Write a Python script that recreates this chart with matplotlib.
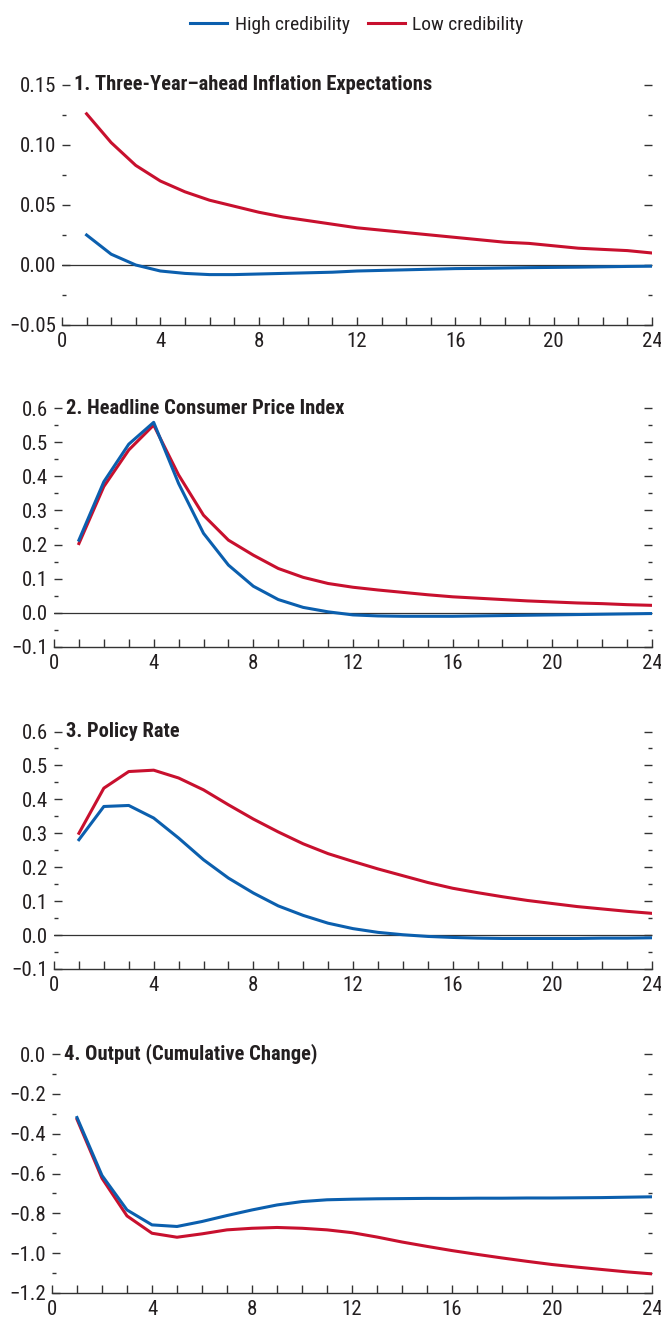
import numpy as np
import matplotlib
matplotlib.use("Agg")
import matplotlib.pyplot as plt
from matplotlib.ticker import MultipleLocator, FuncFormatter

plt.rcParams['font.family'] = ['Roboto Condensed', 'DejaVu Sans']

# quarters
quarters = np.arange(1, 25)

# 1. Three-year-ahead inflation expectations
infl_high = [0.025, 0.009, 0.000, -0.005, -0.007, -0.008, -0.008, -0.0075, -0.007, -0.0065,
             -0.006, -0.005, -0.0045, -0.004, -0.0035, -0.003, -0.0028, -0.0025, -0.0022, -0.002,
             -0.0018, -0.0015, -0.0012, -0.001]
infl_low = [0.126, 0.102, 0.083, 0.070, 0.061, 0.054, 0.049, 0.044, 0.040, 0.037,
            0.034, 0.031, 0.029, 0.027, 0.025, 0.023, 0.021, 0.019, 0.018, 0.016,
            0.014, 0.013, 0.012, 0.010]

# 2. Headline CPI
cpi_high = [0.213, 0.384, 0.494, 0.558, 0.379, 0.233, 0.140, 0.078, 0.039, 0.016,
            0.003, -0.006, -0.009, -0.010, -0.010, -0.010, -0.009, -0.008, -0.007, -0.006,
            -0.005, -0.004, -0.003, -0.002]
cpi_low = [0.203, 0.370, 0.477, 0.550, 0.404, 0.286, 0.213, 0.169, 0.130, 0.104,
           0.086, 0.075, 0.067, 0.060, 0.053, 0.047, 0.043, 0.039, 0.035, 0.032,
           0.029, 0.027, 0.024, 0.022]

# 3. Policy rate
rate_high = [0.281, 0.379, 0.382, 0.345, 0.286, 0.222, 0.168, 0.124, 0.086, 0.058,
             0.035, 0.019, 0.008, 0.001, -0.004, -0.007, -0.009, -0.010, -0.010, -0.010,
             -0.010, -0.009, -0.009, -0.008]
rate_low = [0.300, 0.433, 0.482, 0.486, 0.463, 0.428, 0.384, 0.342, 0.304, 0.269,
            0.240, 0.217, 0.195, 0.175, 0.155, 0.138, 0.125, 0.113, 0.102, 0.093,
            0.084, 0.077, 0.070, 0.064]

# 4. Output (cumulative change)
out_high = [-0.319, -0.610, -0.783, -0.858, -0.866, -0.841, -0.811, -0.783, -0.758, -0.741,
            -0.732, -0.729, -0.727, -0.726, -0.725, -0.725, -0.724, -0.724, -0.723, -0.723,
            -0.722, -0.721, -0.719, -0.717]
out_low = [-0.328, -0.624, -0.813, -0.900, -0.920, -0.903, -0.883, -0.875, -0.871, -0.875,
           -0.883, -0.897, -0.919, -0.944, -0.966, -0.987, -1.006, -1.024, -1.041, -1.057,
           -1.070, -1.082, -1.094, -1.104]

titles = ['1. Three-Year\u2013ahead Inflation Expectations',
          '2. Headline Consumer Price Index',
          '3. Policy Rate',
          '4. Output (Cumulative Change)']
series = [(infl_high, infl_low), (cpi_high, cpi_low), (rate_high, rate_low), (out_high, out_low)]
ylims = [(-0.05, 0.15), (-0.1, 0.6), (-0.1, 0.6), (-1.2, 0.0)]
ymajor = [0.05, 0.1, 0.1, 0.2]
yfmt = ['%.2f', '%.1f', '%.1f', '%.1f']

# axes boxes in pixels: left, top, bottom
W, H = 661, 1317
boxes = [(62, 85, 325), (54, 408, 647), (54, 731.5, 969), (52, 1054, 1293)]
right = 652

blue = '#0b5fae'
red = '#c8102e'
grey = '#333333'
txt = '#231f20'


def fmt_tick(v, f):
    if abs(v) < 1e-9:
        return f % 0
    return (f % v).replace('-', '\u2212')


fig = plt.figure(figsize=(W / 100, H / 100), dpi=100)

for i in range(4):
    l, t, b = boxes[i]
    ax = fig.add_axes([l / W, 1 - b / H, (right - l) / W, (b - t) / H])
    hi, lo = series[i]
    if ylims[i][1] > 0:
        ax.axhline(0, color=grey, lw=0.9, zorder=1)
    ax.plot(quarters, hi, color=blue, lw=2.2, label='High credibility', zorder=3)
    ax.plot(quarters, lo, color=red, lw=2.2, label='Low credibility', zorder=2)
    ax.set_xlim(0, 24)
    ax.set_ylim(*ylims[i])
    ax.xaxis.set_major_locator(MultipleLocator(4))
    ax.xaxis.set_minor_locator(MultipleLocator(1))
    ax.yaxis.set_major_locator(MultipleLocator(ymajor[i]))
    ax.yaxis.set_minor_locator(MultipleLocator(ymajor[i] / 2))
    ax.yaxis.set_major_formatter(FuncFormatter(lambda v, p, f=yfmt[i]: fmt_tick(v, f)))
    for s in ['left', 'right', 'top']:
        ax.spines[s].set_visible(False)
    ax.spines['bottom'].set_color(grey)
    ax.spines['bottom'].set_linewidth(1.0)
    ax.tick_params(axis='x', which='both', direction='in', length=6, width=1.0, color=grey,
                   labelsize=15, pad=5, labelcolor=txt)
    ax.tick_params(axis='y', which='major', direction='in', length=6, width=1.0, color=grey,
                   left=True, right=True, labelsize=15, pad=4, labelcolor=txt)
    ax.tick_params(axis='y', which='minor', direction='in', length=3, width=1.0, color=grey,
                   left=True, right=True)
    ax.patch.set_visible(False)
    ax.annotate(titles[i], xy=(0, ylims[i][1]), xycoords='data', xytext=(12, 0),
                textcoords='offset pixels', va='center', ha='left', fontsize=14.8,
                fontweight='bold', color=txt, annotation_clip=False)
    if i == 0:
        handles, labels = ax.get_legend_handles_labels()

fig.legend(handles, labels, loc='center', bbox_to_anchor=(357 / W, 1 - 25 / H), ncol=2,
           frameon=False, fontsize=14, handlelength=1.9, columnspacing=0.9, handletextpad=0.4,
           labelcolor=txt)

fig.savefig('out.png', dpi=100)
